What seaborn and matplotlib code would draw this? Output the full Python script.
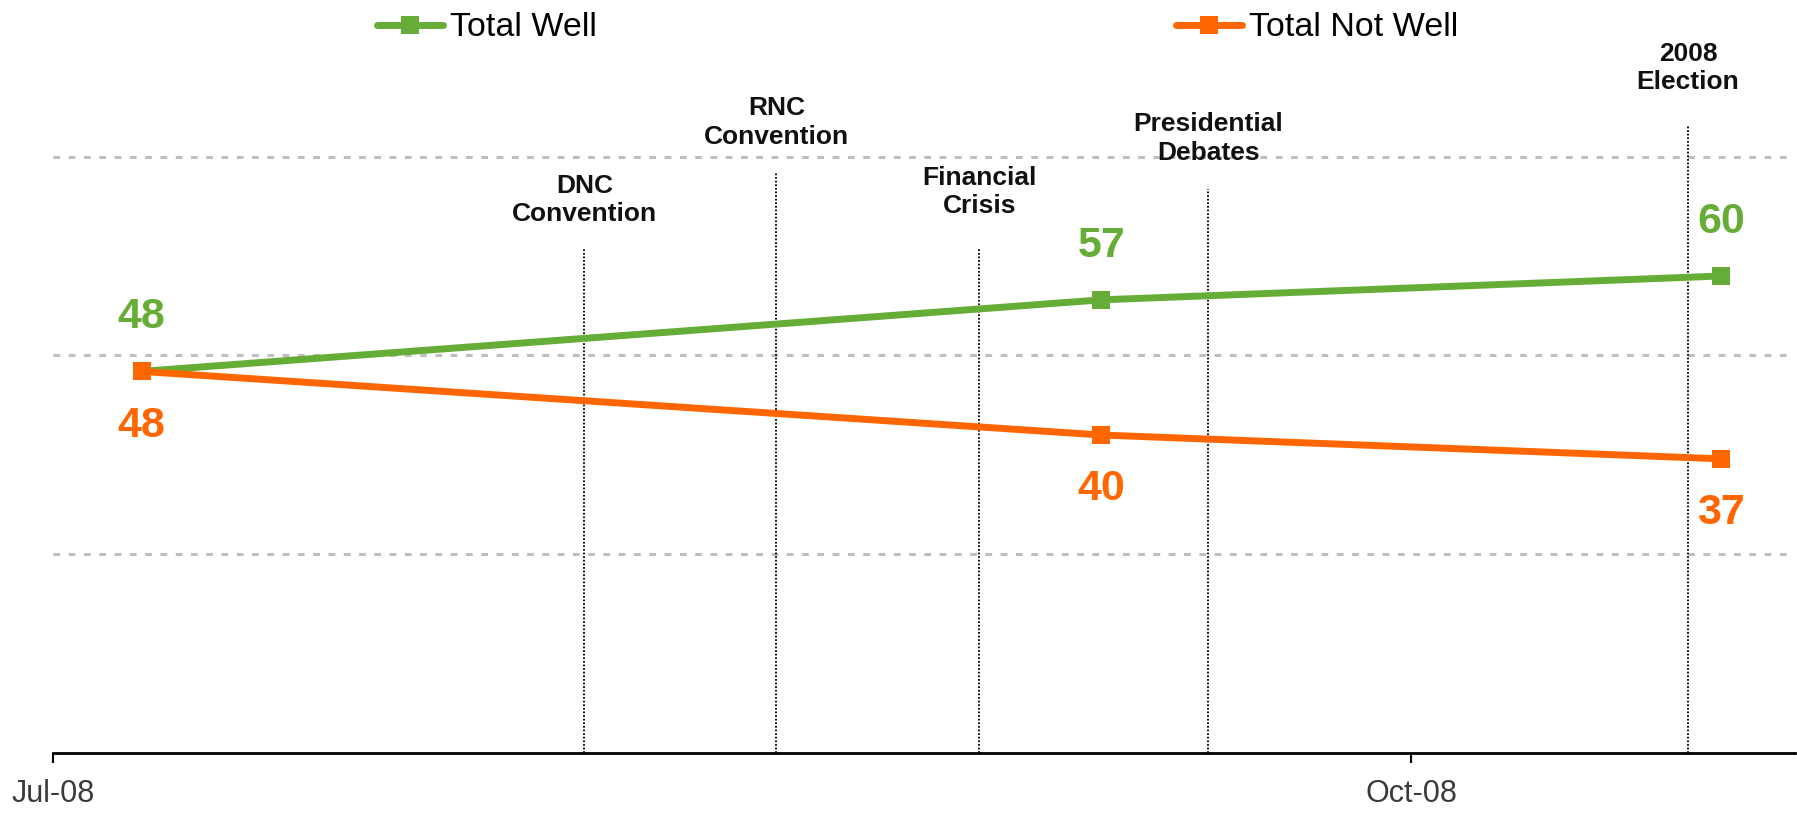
import matplotlib
matplotlib.use("Agg")
import matplotlib.pyplot as plt
import matplotlib.dates as mdates
from matplotlib.lines import Line2D
import pandas as pd
import seaborn as sns

# Survey results
survey_dates = ["2008-07-07", "2008-09-10", "2008-10-22"]
total_well = [48, 57, 60]
total_not_well = [48, 40, 37]
series_names = ["Total Well", "Total Not Well"]

# Campaign events marked on the timeline
event_labels = ["DNC\nConvention", "RNC\nConvention", "Financial\nCrisis",
                "Presidential\nDebates", "2008\nElection"]
event_dates = ["2008-08-06", "2008-08-19", "2008-09-01 18:00", "2008-09-17 06:00",
               "2008-10-19 18:00"]

# Layout for event markers (line top and label height, in axis units)
event_line_top = [63.5, 73.0, 63.5, 71.0, 79.0]
event_label_y = [69.6, 79.3, 70.6, 77.3, 86.2]

GREEN = "#66AD37"
ORANGE = "#FF6600"

sns.set_theme(style="white")
plt.rcParams["font.family"] = ["Liberation Sans", "DejaVu Sans"]

df = pd.DataFrame({
    "date": pd.to_datetime(survey_dates * 2),
    "value": total_well + total_not_well,
    "series": [series_names[0]] * 3 + [series_names[1]] * 3,
})

fig = plt.figure(figsize=(17.97, 8.13), dpi=100)
ax = fig.add_axes([53 / 1797, 60 / 813, 1742 / 1797, 636 / 813])

# Gridlines
ax.set_ylim(0, 80)
ax.set_yticks([25, 50, 75])
ax.yaxis.grid(True, color="#BFBFBF", linestyle=(0, (2.2, 2.8)), linewidth=2.2)
ax.tick_params(axis="y", left=False, labelleft=False)

# Event lines and labels
for lab, d, top, ly in zip(event_labels, event_dates, event_line_top, event_label_y):
    x = mdates.date2num(pd.Timestamp(d))
    ax.vlines(x, 0, top, colors="black", linestyles=(0, (1, 1)), linewidth=1.3, zorder=2)
    ax.text(x, ly, lab, ha="center", va="center", fontsize=19, fontweight="bold",
            color="#111111", linespacing=1.22, clip_on=False, zorder=3)

# Series lines
sns.lineplot(data=df, x="date", y="value", hue="series",
             palette={series_names[0]: GREEN, series_names[1]: ORANGE},
             marker="s", markersize=12.5, markeredgewidth=0, linewidth=5,
             legend=False, ax=ax, zorder=5)

# Value labels
for vals, color, off in [(total_well, GREEN, 39), (total_not_well, ORANGE, -39)]:
    for d, v in zip(survey_dates, vals):
        ax.annotate(f"{v}", (mdates.date2num(pd.Timestamp(d)), v),
                    xytext=(0, off), textcoords="offset points",
                    ha="center", va="center", fontsize=31, fontweight="bold",
                    color=color, zorder=6)

# X axis
ax.set_xlim(pd.Timestamp("2008-07-01"), pd.Timestamp("2008-10-27"))
ax.xaxis.set_major_locator(mdates.MonthLocator(bymonth=[7, 10]))
ax.xaxis.set_major_formatter(mdates.DateFormatter("%b-%y"))
ax.tick_params(axis="x", bottom=True, direction="out", length=7, width=1.5,
               color="black", labelsize=22, labelcolor="#3A3A3A", pad=12)
ax.set_xlabel("")
ax.set_ylabel("")
for side in ["left", "right", "top"]:
    ax.spines[side].set_visible(False)
ax.spines["bottom"].set_color("black")
ax.spines["bottom"].set_linewidth(2)

# Legend
handles = [Line2D([], [], color=c, linewidth=5, marker="s", markersize=13,
                  markeredgewidth=0, solid_capstyle="round")
           for c in (GREEN, ORANGE)]
leg = fig.legend(handles, series_names, loc="center left",
                 bbox_to_anchor=(377 / 1797, 1 - 28 / 813), ncol=2, frameon=False,
                 fontsize=24.5, handlelength=1.95, handletextpad=0.2,
                 columnspacing=17.0, borderpad=0, borderaxespad=0)
for t in leg.get_texts():
    t.set_color("black")

fig.savefig("out.png", dpi=100)
